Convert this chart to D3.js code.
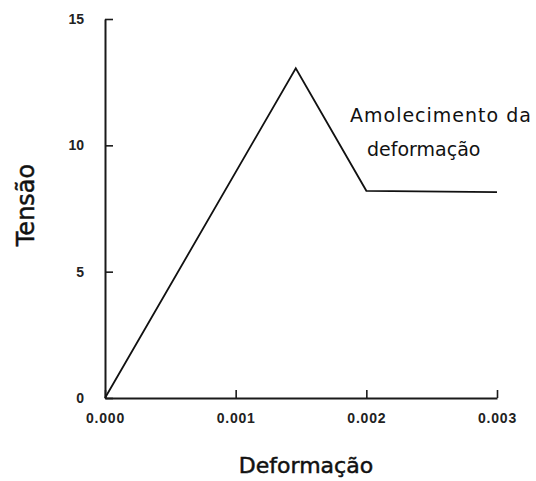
<!DOCTYPE html>
<html>
<head>
<meta charset="utf-8">
<script src="https://cdn.jsdelivr.net/npm/d3@7"></script>
<style>
  html, body { margin: 0; padding: 0; background: #fff; }
  svg { display: block; }
</style>
</head>
<body>
<svg id="chart" width="536" height="481"></svg>
<script>
// Data
const strain = [0, 0.00146, 0.002, 0.003];
const stress = [0, 13.05, 8.2, 8.15];
const xTicks = [0, 0.001, 0.002, 0.003];
const yTicks = [0, 5, 10, 15];
const xTitle = "Deformação";
const yTitle = "Tensão";
const noteLines = ["Amolecimento da", "deformação"];

const svg = d3.select("#chart");
const x = d3.scaleLinear().domain([0, 0.003]).range([105, 497]);
const y = d3.scaleLinear().domain([0, 15]).range([398, 19]);

const axisColor = "#1a1a1a";

// X axis
const gx = svg.append("g")
  .attr("transform", `translate(0,${y(0)})`)
  .call(d3.axisBottom(x).tickValues(xTicks).tickFormat(d3.format(".3f"))
    .tickSizeInner(-8).tickSizeOuter(0).tickPadding(15));
gx.select(".domain").attr("stroke", axisColor).attr("stroke-width", 2);
gx.selectAll(".tick line").attr("stroke", axisColor).attr("stroke-width", 1.6);
gx.selectAll(".tick text")
  .attr("fill", "#222")
  .style("font-family", "'Liberation Sans', Arial, sans-serif")
  .style("font-size", "14px")
  .style("font-weight", "bold")
  .style("letter-spacing", "0.8px");

// Y axis
const gy = svg.append("g")
  .attr("transform", `translate(${x(0)},0)`)
  .call(d3.axisLeft(y).tickValues(yTicks).tickFormat(d3.format("d"))
    .tickSizeInner(-8).tickSizeOuter(0).tickPadding(21));
gy.select(".domain").attr("stroke", axisColor).attr("stroke-width", 2);
gy.selectAll(".tick line").attr("stroke", axisColor).attr("stroke-width", 1.6);
gy.selectAll(".tick text")
  .attr("fill", "#222")
  .style("font-family", "'Liberation Sans', Arial, sans-serif")
  .style("font-size", "14px")
  .style("font-weight", "bold");

// Curve
const pts = strain.map((s, i) => [s, stress[i]]);
svg.append("path")
  .datum(pts)
  .attr("fill", "none")
  .attr("stroke", "#111")
  .attr("stroke-width", 1.8)
  .attr("stroke-linejoin", "miter")
  .attr("d", d3.line().x(d => x(d[0])).y(d => y(d[1])));

// Axis titles
svg.append("text")
  .attr("x", 306).attr("y", 473)
  .attr("text-anchor", "middle")
  .attr("fill", "#111")
  .attr("stroke", "#111").attr("stroke-width", 0.5)
  .style("font-family", "'DejaVu Sans', Verdana, sans-serif")
  .style("font-size", "22px")
  .text(xTitle);

svg.append("text")
  .attr("transform", "translate(34,205) rotate(-90)")
  .attr("text-anchor", "middle")
  .attr("fill", "#111")
  .attr("stroke", "#111").attr("stroke-width", 0.5)
  .style("font-family", "'DejaVu Sans', Verdana, sans-serif")
  .style("font-size", "24px")
  .text(yTitle);

// Annotation
svg.append("text")
  .attr("x", 350).attr("y", 122)
  .attr("fill", "#111")
  .style("font-family", "'DejaVu Sans', Verdana, sans-serif")
  .style("font-size", "19px")
  .style("letter-spacing", "1px")
  .text(noteLines[0]);
svg.append("text")
  .attr("x", 367).attr("y", 156)
  .attr("fill", "#111")
  .style("font-family", "'DejaVu Sans', Verdana, sans-serif")
  .style("font-size", "19px")
  .text(noteLines[1]);
</script>
</body>
</html>
